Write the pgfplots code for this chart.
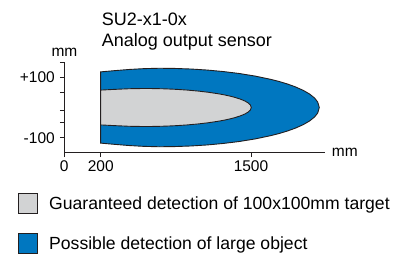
\documentclass[border=0pt]{standalone}
\usepackage{pgfplots}
\pgfplotsset{compat=1.18}
\usepackage{fontspec}
\setmainfont{Liberation Sans}
\definecolor{sblue}{RGB}{0,119,192}
\definecolor{sgray}{RGB}{210,211,212}
\definecolor{sline}{RGB}{35,31,32}
\begin{document}
\begin{tikzpicture}
\path[use as bounding box] (-64.3pt,-104.3pt) rectangle (334.7pt,152.7pt);
\begin{axis}[
  scale only axis,
  anchor=south west,
  at={(0pt,0pt)},
  width=260.7pt, height=91pt,
  xmin=0, xmax=260.7,
  ymin=-149.7, ymax=151.7,
  axis x line=bottom, axis y line=left,
  axis line style={-, line width=1pt, sline},
  tick style={line width=0.9pt, sline},
  tick align=outside,
  major tick length=4.5pt,
  xtick={0,36.4,186.7},
  xticklabels={0,200,1500},
  ytick={-100,-50.3,-8.3,50.3,100,148.3},
  yticklabels={-100,,,,+100,},
  /pgf/number format/assume math mode=true,
  tick label style={font=\fontsize{15.5}{18}\selectfont},
  yticklabel style={xshift=-1.5pt},
  clip=false,
  legend cell align=left,
  reverse legend,
  legend image code/.code={\draw[#1] (0pt,-10pt) rectangle (19pt,10pt);},
  legend style={at={(axis description cs:-0.1764,-0.4462)}, anchor=north west,
    draw=none, fill=none, inner sep=0pt, outer sep=0pt,
    font=\fontsize{17.6}{20}\selectfont, row sep=19pt,
    nodes={inner sep=0pt},
    /tikz/every odd column/.append style={column sep=11pt}},
]
\addplot[fill=sblue, draw=sline, line width=0.9pt] coordinates {
 (36.4,-118) (36.4,118) (50,122) (65,126) (80,128.8) (95,130)
 (111,129.35) (127,127.4) (143,124.0) (159,119.1) (175,112.6) (191,104)
 (207,92.8) (215,86.0) (223,78) (231,68.5) (239,56.7) (245.4,44.4)
 (250.2,31.6) (253.4,18.3) (255,0)
 (253.4,-18.3) (250.2,-31.6) (245.4,-44.4) (239,-56.7) (231,-68.5)
 (223,-78) (215,-86.0) (207,-92.8) (191,-104) (175,-112.6) (159,-119.1)
 (143,-124.0) (127,-127.4) (111,-129.35) (95,-130) (80,-128.8) (65,-126)
 (50,-122)
} -- cycle;
\addlegendentry{Possible detection of large object}
\addplot[fill=sgray, draw=sline, line width=0.9pt] coordinates {
 (36.4,-57.7) (36.4,57.7) (50,60) (65,62.2) (80,63)
 (90.7,62.68) (101.4,61.73) (112.1,60.1) (122.8,57.74) (133.5,54.56)
 (144.2,50.4) (154.9,44.99) (160.25,41.67) (165.6,37.8) (170.95,33.19)
 (176.3,27.46) (180.58,21.5) (183.79,15.32) (185.93,8.89) (187,0)
 (185.93,-8.89) (183.79,-15.32) (180.58,-21.5) (176.3,-27.46)
 (170.95,-33.19) (165.6,-37.8) (160.25,-41.67) (154.9,-44.99)
 (144.2,-50.4) (133.5,-54.56) (122.8,-57.74) (112.1,-60.1)
 (101.4,-61.73) (90.7,-62.68) (80,-63) (65,-62.2) (50,-60)
} -- cycle;
\addlegendentry{Guaranteed detection of 100x100mm target}
\node[anchor=base west, inner sep=0pt, font=\fontsize{18}{20}\selectfont] at (axis cs:37.4,272) {SU2-x1-0x};
\node[anchor=base west, inner sep=0pt, font=\fontsize{18}{20}\selectfont] at (axis cs:37.4,201) {Analog output sensor};
\node[anchor=base, inner sep=0pt, font=\fontsize{15.5}{18}\selectfont] at (axis cs:0.2,168) {mm};
\node[anchor=base west, inner sep=0pt, font=\fontsize{15.5}{18}\selectfont] at (axis cs:267.4,-163) {mm};
\end{axis}
\end{tikzpicture}
\end{document}
